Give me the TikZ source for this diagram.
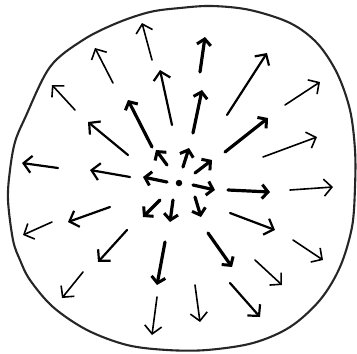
\documentclass[tikz,border=0pt]{standalone}
\usepackage{tikz}
\usetikzlibrary{arrows.meta}

\begin{document}
\begin{tikzpicture}[
    x=1pt, y=-1pt,
    rim/.style={line width=2.1pt, black!85, line join=round},
    vec/.style={line width=1.6pt, black, line cap=round, -{Straight Barb[length=8pt, width=17pt, line width=1.6pt]}},
    midvec/.style={vec, line width=2.2pt, -{Straight Barb[length=8pt, width=17pt, line width=2.2pt]}},
    heavy/.style={vec, line width=3.2pt, -{Straight Barb[length=6pt, width=14pt, line width=3pt]}},
    source/.style={circle, fill=black, inner sep=0pt, minimum size=6.5pt}
]
    \useasboundingbox (0,0) rectangle (357,354);

    % --- Boundary (hand drawn rim) ---
    \draw[rim] plot[smooth cycle, tension=0.55] coordinates {
        (150,12) (180,8) (212,6) (250,10) (290,23) (317,43) (337,73) (350,110)
        (355,150) (355,187) (352,227) (340,267) (320,300) (290,327)
        (253,343) (207,350) (167,350) (127,345) (87,330) (53,307)
        (30,280) (20,260) (13,240) (8,200) (10,170) (15,142) (25,118) (50,67)
        (83,40) (117,23)};

    % --- Source point ---
    \node[source] (src) at (179,183) {};

    % --- Inner ring: short, heavy ---
    \draw[heavy] (167,182) -- (143,177);
    \draw[heavy] (167,165) -- (156,150);
    \draw[heavy] (183,167) -- (189,148);
    \draw[heavy] (195,173) -- (212,160);
    \draw[heavy] (193,185) -- (215,190);
    \draw[heavy] (195,197) -- (201,217);
    \draw[heavy] (173,200) -- (170,222);
    \draw[heavy] (160,200) -- (143,217);

    % --- Middle ring ---
    \draw[midvec] (130,177) -- (90,170);
    \draw[midvec] (128,155) -- (88,122);
    \draw[heavy]  (152,147) -- (128,100);
    \draw[midvec] (172,125) -- (160,70);
    \draw[heavy]  (193,133) -- (202,90);
    \draw[heavy]  (225,152) -- (268,118);
    \draw[heavy]  (228,190) -- (270,192);
    \draw[midvec] (230,213) -- (275,230);
    \draw[heavy]  (208,233) -- (232,267);
    \draw[heavy]  (165,242) -- (157,285);
    \draw[midvec] (127,230) -- (98,262);
    \draw[midvec] (110,207) -- (68,222);

    % --- Outer ring: long, thin ---
    \draw[midvec] (58,168)  -- (22,163);
    \draw[vec]    (75,110)  -- (52,85);
    \draw[vec]    (113,83)  -- (95,48);
    \draw[vec]    (152,60)  -- (142,23);
    \draw[heavy]  (200,72)  -- (205,37);
    \draw[midvec] (227,115) -- (267,53);
    \draw[vec]    (285,105) -- (320,82);
    \draw[vec]    (263,157) -- (317,137);
    \draw[vec]    (290,190) -- (333,187);
    \draw[vec]    (293,240) -- (323,260);
    \draw[vec]    (255,260) -- (282,285);
    \draw[midvec] (230,283) -- (260,317);
    \draw[vec]    (195,285) -- (200,322);
    \draw[vec]    (157,297) -- (152,335);
    \draw[vec]    (83,272)  -- (62,298);
    \draw[vec]    (52,222)  -- (23,235);

\end{tikzpicture}
\end{document}
